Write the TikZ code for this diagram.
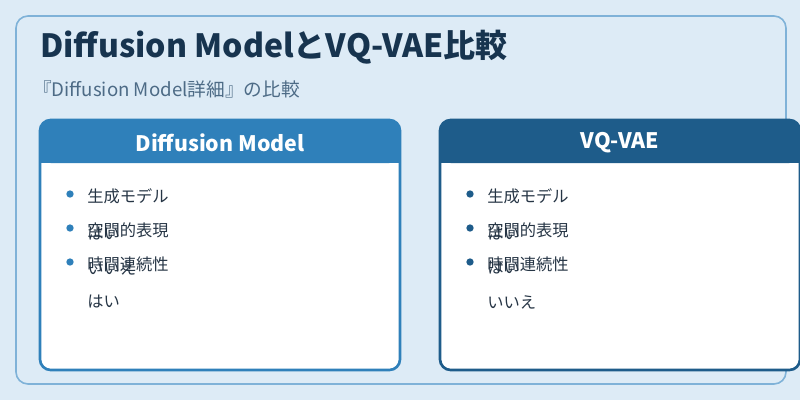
\documentclass[tikz,border=0pt]{standalone}
\usepackage{fontspec}
\setmainfont{Noto Sans CJK JP}
\begin{document}
\begin{tikzpicture}[x=0.75pt,y=-0.75pt,
  txt/.style={anchor=west,inner sep=0pt,font=\fontsize{12.2}{14}\selectfont},
  dot/.style={circle,inner sep=0pt,minimum size=5.5pt}]
\definecolor{bg}{HTML}{DDEBF6}
\definecolor{obord}{HTML}{7FB2D8}
\definecolor{lblue}{HTML}{2F80BA}
\definecolor{dblue}{HTML}{1E5C8A}
\definecolor{ttl}{HTML}{17344F}
\definecolor{sub}{HTML}{4D6B86}
\definecolor{tx}{HTML}{263545}
\fill[bg] (0,0) rectangle (800,400);
\useasboundingbox (0,0) rectangle (800,400);
\draw[obord,line width=1.2pt,fill=bg,rounded corners=9pt] (16,16) rectangle (786,384);
\node[anchor=west,inner sep=0pt,text=ttl,font=\fontsize{24}{28}\selectfont\bfseries] (title) at (40,47) {Diffusion ModelとVQ-VAE比較};
\node[anchor=west,inner sep=0pt,text=sub,font=\fontsize{14}{16}\selectfont] (subt) at (33,89) {『Diffusion Model詳細』の比較};
% cards
\foreach \x/\c/\n/\h in {40/lblue/L/Diffusion Model,440/dblue/R/VQ-VAE}{
  \fill[white,rounded corners=8pt] (\x,120) rectangle (\x+360,370);
  \fill[\c,rounded corners=8pt] (\x,120) rectangle (\x+360,163);
  \fill[\c] (\x,150) rectangle (\x+360,163);
  \draw[\c,line width=2pt,rounded corners=8pt] (\x,120) rectangle (\x+360,370);
  \node[text=white,font=\fontsize{16}{19}\selectfont\bfseries] (head\n) at (\x+180,143) {\h};
  \foreach \y/\t/\k in {196/生成モデル/a,230/空間的表現/b,264/時間連続性/c}{
    \node[dot,fill=\c] (d\n\k) at (\x+30,\y-2) {};
    \node[txt,text=tx] (t\n\k) at (\x+47,\y) {\t};
  }
}
\node[txt,text=tx] (aL1) at (87,234) {はい};
\node[txt,text=tx] (aL2) at (87,268) {いいえ};
\node[txt,text=tx] (aL3) at (87,302) {はい};
\node[txt,text=tx] (aR1) at (487,234) {はい};
\node[txt,text=tx] (aR2) at (487,268) {はい};
\node[txt,text=tx] (aR3) at (487,302) {いいえ};
\end{tikzpicture}
\end{document}
